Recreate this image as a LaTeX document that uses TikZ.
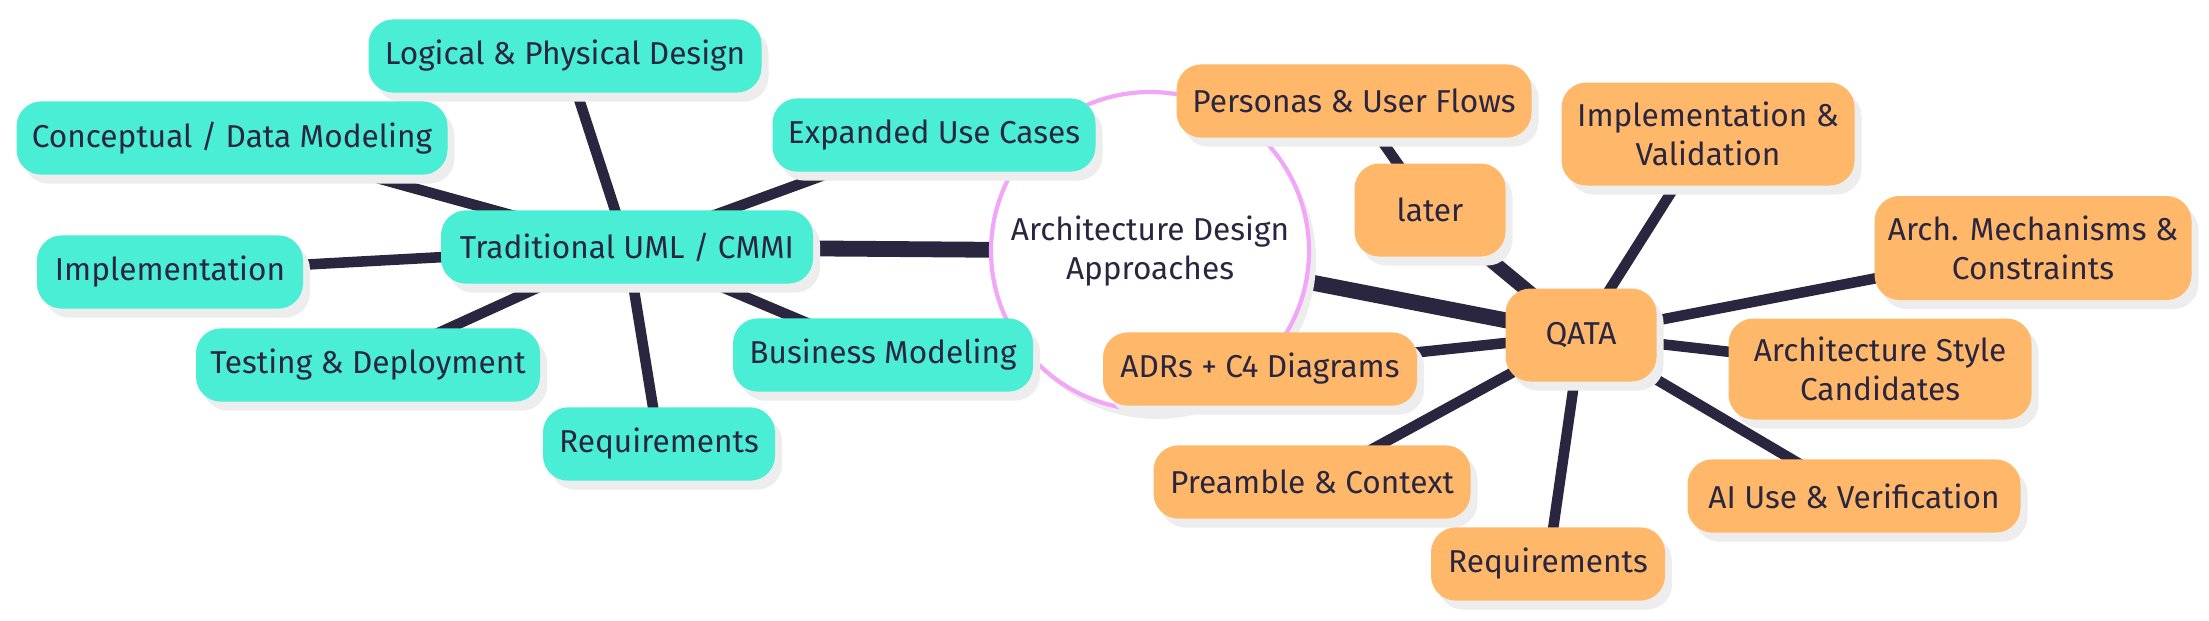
\documentclass[tikz,border=0pt]{standalone}
\usepackage{fontspec}
\setmainfont{Fira Sans}
\usetikzlibrary{shapes,shadows,backgrounds}
\definecolor{mm_teal}{RGB}{74, 238, 213}
\definecolor{mm_orange}{RGB}{255, 184, 106}
\definecolor{mm_ink}{RGB}{42, 38, 64}
\definecolor{mm_pink}{RGB}{242, 166, 247}
\definecolor{mm_shade}{RGB}{237, 237, 237}
\tikzstyle{mmbox}=[rectangle,rounded corners=0.25cm,draw=none,text=mm_ink,
  align=center,inner sep=2pt,minimum height=0.733cm,
  font=\fontsize{9}{11}\selectfont,
  drop shadow={shadow xshift=0.07cm,shadow yshift=-0.09cm,fill=mm_shade,opacity=1}]
\tikzstyle{un}=[mmbox,fill=mm_teal]
\tikzstyle{qn}=[mmbox,fill=mm_orange]
\tikzstyle{rootn}=[circle,fill=white,draw=mm_pink,line width=1.2pt,
  minimum size=3.18cm,text=mm_ink,align=center,
  font=\fontsize{9}{11}\selectfont,
  drop shadow={shadow xshift=0.07cm,shadow yshift=-0.09cm,fill=mm_shade,opacity=1}]
\tikzstyle{trunk}=[draw=mm_ink,line width=4.5pt]
\tikzstyle{twig}=[draw=mm_ink,line width=3pt]

\begin{document}
\begin{tikzpicture}
    \useasboundingbox (0,0) rectangle (22.09,6.20);
    \node [style=rootn] (root) at (11.50,3.69) {Architecture Design\\Approaches};
    % left branch
    \node [style=un, minimum width=3.72cm] (uml) at (6.27,3.73) {Traditional UML / CMMI};
    \node [style=un, minimum width=3.93cm] (logical) at (5.65,5.64) {Logical \& Physical Design};
    \node [style=un, minimum width=4.31cm] (concept) at (2.32,4.82) {Conceptual / Data Modeling};
    \node [style=un, minimum width=3.23cm] (usecases) at (9.34,4.85) {Expanded Use Cases};
    \node [style=un, minimum width=2.66cm] (impl) at (1.70,3.48) {Implementation};
    \node [style=un, minimum width=3.44cm] (testing) at (3.68,2.55) {Testing \& Deployment};
    \node [style=un, minimum width=3.00cm] (business) at (8.83,2.65) {Business Modeling};
    \node [style=un, minimum width=2.32cm] (reqL) at (6.59,1.76) {Requirements};
    % right branch
    \node [style=qn, minimum width=1.51cm, minimum height=0.93cm] (qata) at (15.81,2.85) {QATA};
    \node [style=qn, minimum width=1.51cm, minimum height=0.93cm] (later) at (14.30,4.10) {later};
    \node [style=qn, minimum width=3.55cm] (personas) at (13.54,5.19) {Personas \& User Flows};
    \node [style=qn, minimum width=2.93cm, minimum height=1.03cm] (implval) at (17.08,4.86) {Implementation \&\\Validation};
    \node [style=qn, minimum width=3.17cm, minimum height=1.04cm] (mechs) at (20.33,3.72) {Arch. Mechanisms \&\\Constraints};
    \node [style=qn, minimum width=3.03cm, minimum height=1.01cm] (styles) at (18.80,2.51) {Architecture Style\\Candidates};
    \node [style=qn, minimum width=3.14cm] (adrs) at (12.60,2.51) {ADRs + C4 Diagrams};
    \node [style=qn, minimum width=3.17cm] (preamble) at (13.12,1.38) {Preamble \& Context};
    \node [style=qn, minimum width=3.33cm] (aiuse) at (18.54,1.24) {AI Use \& Verification};
    \node [style=qn, minimum width=2.34cm] (reqR) at (15.48,0.56) {Requirements};
    % connectors, behind the boxes
    \begin{pgfonlayer}{background}
    \draw [style=trunk] (root.center) to (uml.center);
    \draw [style=trunk] (root.center) to (qata.center);
    \draw [style=twig] (uml.center) to (logical.center);
    \draw [style=twig] (uml.center) to (concept.center);
    \draw [style=twig] (uml.center) to (usecases.center);
    \draw [style=twig] (uml.center) to (impl.center);
    \draw [style=twig] (uml.center) to (testing.center);
    \draw [style=twig] (uml.center) to (business.center);
    \draw [style=twig] (uml.center) to (reqL.center);
    \draw [style=trunk, line width=4pt] (qata.center) to (later.center);
    \draw [style=twig] (later.center) to (personas.center);
    \draw [style=twig] (qata.center) to (implval.center);
    \draw [style=twig] (qata.center) to (mechs.center);
    \draw [style=twig] (qata.center) to (styles.center);
    \draw [style=twig] (qata.center) to (adrs.center);
    \draw [style=twig] (qata.center) to (preamble.center);
    \draw [style=twig] (qata.center) to (aiuse.center);
    \draw [style=twig] (qata.center) to (reqR.center);
    \end{pgfonlayer}
\end{tikzpicture}
\end{document}
